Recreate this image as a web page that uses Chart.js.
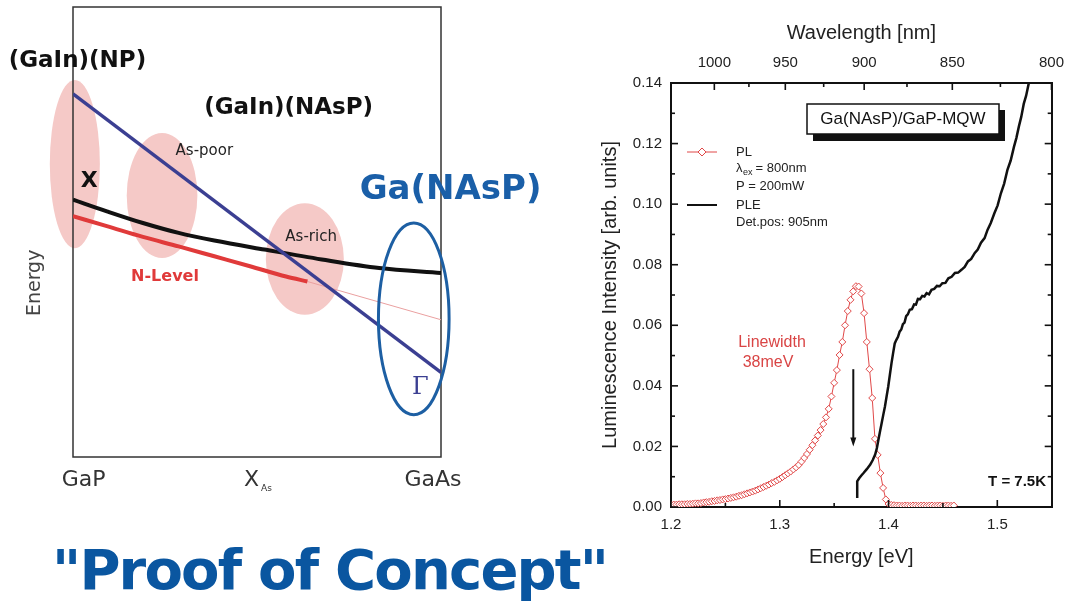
<!DOCTYPE html>
<html>
<head>
<meta charset="utf-8">
<script src="https://cdn.jsdelivr.net/npm/chart.js@4.4.0/dist/chart.umd.min.js"></script>
<style>
  html, body { margin: 0; padding: 0; background: #fff; width: 1075px; height: 605px; overflow: hidden; }
  #left { position: absolute; left: 0; top: 0; }
  #right { position: absolute; left: 590px; top: 0; }
  #title { position: absolute; left: 52px; top: 542px; font: bold 56px "DejaVu Sans"; line-height: 56px;
           color: #0a56a0; letter-spacing: -1.8px; white-space: nowrap; }
</style>
</head>
<body>
<canvas id="left" width="590" height="520"></canvas>
<canvas id="right" width="485" height="600"></canvas>
<div id="title">"Proof of Concept"</div>
<script>
// ---------- left: band scheme (x = As fraction, y = energy, both 0..1) ----------
const blackX = [0, 0.092, 0.19, 0.287, 0.384, 0.52, 0.676, 0.832, 1.0];
const blackY = [0.572, 0.546, 0.52, 0.498, 0.481, 0.461, 0.439, 0.42, 0.409];
const nLevelX = [0, 0.092, 0.19, 0.287, 0.384, 0.481, 0.579, 0.637];
const nLevelY = [0.535, 0.513, 0.489, 0.468, 0.446, 0.424, 0.401, 0.39];
const nThinX = [0.637, 1.0];
const nThinY = [0.39, 0.305];
const gammaX = [0, 1];
const gammaY = [0.807, 0.188];

// regions: centre x, centre y, radius x, radius y
const pinkRegions = [
  [0.005, 0.651, 0.068, 0.187],
  [0.242, 0.581, 0.096, 0.139],
  [0.63, 0.44, 0.106, 0.124]
];
const blueRegion = [0.926, 0.307, 0.096, 0.213];

const leftLabels = [
  { t: '(GaIn)(NP)', x: 0.012, y: 0.879, f: 'bold 23px "DejaVu Sans"', c: '#111' },
  { t: '(GaIn)(NAsP)', x: 0.586, y: 0.776, f: 'bold 23px "DejaVu Sans"', c: '#111' },
  { t: 'As-poor', x: 0.357, y: 0.679, f: '15px "DejaVu Sans"', c: '#222' },
  { t: 'X', x: 0.044, y: 0.613, f: 'bold 22px "DejaVu Sans"', c: '#111' },
  { t: 'Ga(NAsP)', x: 1.026, y: 0.594, f: 'bold 34px "DejaVu Sans"', c: '#1a5fa8' },
  { t: 'As-rich', x: 0.647, y: 0.489, f: '15px "DejaVu Sans"', c: '#222' },
  { t: 'N-Level', x: 0.25, y: 0.401, f: 'bold 16px "DejaVu Sans"', c: '#e03a3a' },
  { t: 'Γ', x: 0.944, y: 0.153, f: '24px "DejaVu Serif"', c: '#3b3f92' },
  { t: 'GaP', x: 0.029, y: -0.051, f: '22px "DejaVu Sans"', c: '#333' },
  { t: 'GaAs', x: 0.978, y: -0.051, f: '22px "DejaVu Sans"', c: '#333' }
];

function pts(xs, ys) { return xs.map((v, i) => ({ x: v, y: ys[i] })); }

const schemePlugin = {
  id: 'scheme',
  beforeDatasetsDraw(chart) {
    const { ctx, scales: { x, y } } = chart;
    ctx.save();
    ctx.fillStyle = '#f5c9c7';
    pinkRegions.forEach(r => {
      const cx = x.getPixelForValue(r[0]), cy = y.getPixelForValue(r[1]);
      const rx = Math.abs(x.getPixelForValue(r[0] + r[2]) - cx);
      const ry = Math.abs(y.getPixelForValue(r[1] + r[3]) - cy);
      ctx.beginPath(); ctx.ellipse(cx, cy, rx, ry, 0, 0, Math.PI * 2); ctx.fill();
    });
    // frame
    const a = chart.chartArea;
    ctx.strokeStyle = '#333'; ctx.lineWidth = 1.5;
    ctx.strokeRect(a.left, a.top, a.right - a.left, a.bottom - a.top);
    ctx.restore();
  },
  afterDraw(chart) {
    const { ctx, scales: { x, y } } = chart;
    ctx.save();
    const r = blueRegion;
    const cx = x.getPixelForValue(r[0]), cy = y.getPixelForValue(r[1]);
    const rx = Math.abs(x.getPixelForValue(r[0] + r[2]) - cx);
    const ry = Math.abs(y.getPixelForValue(r[1] + r[3]) - cy);
    ctx.strokeStyle = '#1d5fa3'; ctx.lineWidth = 3;
    ctx.beginPath(); ctx.ellipse(cx, cy, rx, ry, 0, 0, Math.PI * 2); ctx.stroke();

    ctx.textAlign = 'center'; ctx.textBaseline = 'middle';
    leftLabels.forEach(l => {
      ctx.font = l.f; ctx.fillStyle = l.c;
      ctx.fillText(l.t, x.getPixelForValue(l.x), y.getPixelForValue(l.y));
    });
    // X with subscript As
    const px = x.getPixelForValue(0.496), py = y.getPixelForValue(-0.051);
    ctx.font = '22px "DejaVu Sans"'; ctx.fillStyle = '#333';
    ctx.fillText('X', px - 4, py);
    ctx.font = '9px "DejaVu Sans"';
    ctx.fillText('As', px + 11, py + 9);
    // axis title
    ctx.save();
    ctx.translate(35, y.getPixelForValue(0.387));
    ctx.rotate(-Math.PI / 2);
    ctx.font = '19px "DejaVu Sans"'; ctx.fillStyle = '#444';
    ctx.fillText('Energy', 0, 0);
    ctx.restore();
    ctx.restore();
  }
};

new Chart(document.getElementById('left'), {
  type: 'line',
  data: {
    datasets: [
      { data: pts(gammaX, gammaY), borderColor: '#3b3f92', borderWidth: 3.5, pointRadius: 0 },
      { data: pts(blackX, blackY), borderColor: '#111', borderWidth: 4, pointRadius: 0, cubicInterpolationMode: 'monotone' },
      { data: pts(nLevelX, nLevelY), borderColor: '#e03a3a', borderWidth: 4, pointRadius: 0, cubicInterpolationMode: 'monotone' },
      { data: pts(nThinX, nThinY), borderColor: '#eaa0a0', borderWidth: 1, pointRadius: 0 }
    ]
  },
  options: {
    responsive: false,
    animation: false,
    layout: { padding: { left: 73, top: 7, right: 149, bottom: 63 } },
    plugins: { legend: { display: false }, tooltip: { enabled: false } },
    scales: {
      x: { type: 'linear', min: 0, max: 1, display: false },
      y: { type: 'linear', min: 0, max: 1, display: false }
    }
  },
  plugins: [schemePlugin]
});

// ---------- right: PL / PLE spectra ----------
const energyTicks = [1.2, 1.3, 1.4, 1.5];
const energyMinor = [1.25, 1.35, 1.45];
const wavelengthTicks = [1000, 950, 900, 850, 800];
const wavelengthMinor = [975, 925, 875, 825];
const intensityTicks = [0, 0.02, 0.04, 0.06, 0.08, 0.10, 0.12, 0.14];
const intensityMinor = [0.01, 0.03, 0.05, 0.07, 0.09, 0.11, 0.13];

const plEnergy = [
  1.2000, 1.2025, 1.2050, 1.2075, 1.2100, 1.2125, 1.2150, 1.2175, 1.2200, 1.2225,
  1.2250, 1.2275, 1.2300, 1.2325, 1.2350, 1.2375, 1.2400, 1.2425, 1.2450, 1.2475,
  1.2500, 1.2525, 1.2550, 1.2575, 1.2600, 1.2625, 1.2650, 1.2675, 1.2700, 1.2725,
  1.2750, 1.2775, 1.2800, 1.2825, 1.2850, 1.2875, 1.2900, 1.2925, 1.2950, 1.2975,
  1.3000, 1.3025, 1.3050, 1.3075, 1.3100, 1.3125, 1.3150, 1.3175, 1.3200, 1.3225,
  1.3250, 1.3275, 1.3300, 1.3325, 1.3350, 1.3375, 1.3400, 1.3425, 1.3450, 1.3475,
  1.3500, 1.3525, 1.3550, 1.3575, 1.3600, 1.3625, 1.3650, 1.3675, 1.3700, 1.3725,
  1.3750, 1.3775, 1.3800, 1.3825, 1.3850, 1.3875, 1.3900, 1.3925, 1.3950, 1.3975,
  1.4000, 1.4025, 1.4050, 1.4075, 1.4100, 1.4125, 1.4150, 1.4175, 1.4200, 1.4225,
  1.4250, 1.4275, 1.4300, 1.4325, 1.4350, 1.4375, 1.4400, 1.4425, 1.4450, 1.4475,
  1.4500, 1.4525, 1.4550, 1.4575, 1.4600
];
const plIntensity = [
  0.0008, 0.0008, 0.0008, 0.0009, 0.0009, 0.0009, 0.0010, 0.0010, 0.0011, 0.0012,
  0.0012, 0.0013, 0.0015, 0.0016, 0.0017, 0.0019, 0.0020, 0.0022, 0.0023, 0.0025,
  0.0026, 0.0028, 0.0030, 0.0032, 0.0034, 0.0037, 0.0039, 0.0042, 0.0045, 0.0048,
  0.0051, 0.0054, 0.0058, 0.0062, 0.0066, 0.0070, 0.0074, 0.0079, 0.0083, 0.0088,
  0.0093, 0.0099, 0.0105, 0.0111, 0.0117, 0.0124, 0.0131, 0.0139, 0.0150, 0.0162,
  0.0175, 0.0189, 0.0204, 0.0220, 0.0236, 0.0254, 0.0274, 0.0296, 0.0324, 0.0365,
  0.0410, 0.0452, 0.0502, 0.0545, 0.0600, 0.0647, 0.0684, 0.0712, 0.0729, 0.0728,
  0.0705, 0.0640, 0.0545, 0.0455, 0.0360, 0.0225, 0.0172, 0.0112, 0.0063, 0.0025,
  0.0010, 0.0007, 0.0006, 0.0005, 0.0005, 0.0004, 0.0005, 0.0005, 0.0004, 0.0005,
  0.0005, 0.0004, 0.0005, 0.0005, 0.0004, 0.0005, 0.0005, 0.0004, 0.0005, 0.0005,
  0.0004, 0.0005, 0.0005, 0.0004, 0.0005
];

const pleEnergy = [
  1.3712, 1.3712, 1.3730, 1.3750, 1.3772, 1.3800, 1.3832, 1.3855, 1.3877, 1.3893,
  1.3907, 1.3922, 1.3937, 1.3952, 1.3967, 1.3982, 1.3997, 1.4012, 1.4027, 1.4042,
  1.4057, 1.4072, 1.4087, 1.4102, 1.4117, 1.4132, 1.4147, 1.4162, 1.4177, 1.4195,
  1.4215, 1.4235, 1.4252, 1.4270, 1.4290, 1.4310, 1.4330, 1.4350, 1.4372, 1.4395,
  1.4420, 1.4445, 1.4470, 1.4495, 1.4523, 1.4550, 1.4580, 1.4610, 1.4640, 1.4673,
  1.4700, 1.4730, 1.4760, 1.4793, 1.4820, 1.4850, 1.4883, 1.4910, 1.4940, 1.4973,
  1.5003, 1.5033, 1.5063, 1.5093, 1.5123, 1.5153, 1.5175, 1.5198, 1.5220, 1.5243,
  1.5265, 1.5288, 1.5300
];
const pleIntensity = [
  0.0030, 0.0085, 0.0095, 0.0104, 0.0113, 0.0125, 0.0140, 0.0155, 0.0173, 0.0195,
  0.0222, 0.0250, 0.0277, 0.0305, 0.0332, 0.0365, 0.0397, 0.0436, 0.0474, 0.0508,
  0.0540, 0.0552, 0.0562, 0.0579, 0.0586, 0.0604, 0.0609, 0.0630, 0.0636, 0.0651,
  0.0653, 0.0669, 0.0668, 0.0687, 0.0686, 0.0697, 0.0695, 0.0706, 0.0702, 0.0717,
  0.0720, 0.0730, 0.0729, 0.0739, 0.0740, 0.0755, 0.0760, 0.0773, 0.0774, 0.0784,
  0.0793, 0.0811, 0.0819, 0.0839, 0.0850, 0.0873, 0.0888, 0.0915, 0.0938, 0.0970,
  0.0996, 0.1036, 0.1068, 0.1113, 0.1144, 0.1189, 0.1218, 0.1256, 0.1288, 0.1331,
  0.1358, 0.1397, 0.1412
];

const HC = 1239.84; // eV*nm

const spectraPlugin = {
  id: 'spectra',
  afterDraw(chart) {
    const { ctx, chartArea: a, scales: { x, y } } = chart;
    ctx.save();
    ctx.strokeStyle = '#111'; ctx.lineWidth = 1.6;
    const tick = (px, py, dx, dy) => { ctx.beginPath(); ctx.moveTo(px, py); ctx.lineTo(px + dx, py + dy); ctx.stroke(); };
    energyTicks.forEach(v => tick(x.getPixelForValue(v), a.bottom, 0, -7));
    energyMinor.forEach(v => tick(x.getPixelForValue(v), a.bottom, 0, -4));
    wavelengthTicks.forEach(l => tick(x.getPixelForValue(HC / l), a.top, 0, 7));
    wavelengthMinor.forEach(l => tick(x.getPixelForValue(HC / l), a.top, 0, 4));
    intensityTicks.forEach(v => { const p = y.getPixelForValue(v); tick(a.left, p, 7, 0); tick(a.right, p, -7, 0); });
    intensityMinor.forEach(v => { const p = y.getPixelForValue(v); tick(a.left, p, 4, 0); tick(a.right, p, -4, 0); });

    // detection arrow
    const ax = x.getPixelForValue(1.3676);
    const ay0 = y.getPixelForValue(0.0455), ay1 = y.getPixelForValue(0.020);
    ctx.lineWidth = 2;
    ctx.beginPath(); ctx.moveTo(ax, ay0); ctx.lineTo(ax, ay1 - 6); ctx.stroke();
    ctx.fillStyle = '#111';
    ctx.beginPath(); ctx.moveTo(ax - 3, ay1 - 9); ctx.lineTo(ax + 3, ay1 - 9); ctx.lineTo(ax, ay1); ctx.closePath(); ctx.fill();

    // legend
    const lx = a.left;
    ctx.font = '13px "Liberation Sans"'; ctx.fillStyle = '#222';
    ctx.textAlign = 'left'; ctx.textBaseline = 'middle';
    ctx.strokeStyle = '#e04848'; ctx.lineWidth = 1;
    tick(lx + 16, 152, 30, 0);
    ctx.fillStyle = '#fff';
    ctx.beginPath(); ctx.moveTo(lx + 31, 148); ctx.lineTo(lx + 35, 152); ctx.lineTo(lx + 31, 156); ctx.lineTo(lx + 27, 152); ctx.closePath();
    ctx.fill(); ctx.stroke();
    ctx.fillStyle = '#222';
    ctx.fillText('PL', lx + 65, 152);
    ctx.fillText('λ', lx + 65, 168);
    ctx.font = '9px "Liberation Sans"';
    ctx.fillText('ex', lx + 72, 173);
    ctx.font = '13px "Liberation Sans"';
    ctx.fillText(' = 800nm', lx + 81, 168);
    ctx.fillText('P = 200mW', lx + 65, 186);
    ctx.strokeStyle = '#111'; ctx.lineWidth = 2;
    tick(lx + 16, 205, 30, 0);
    ctx.fillText('PLE', lx + 65, 205);
    ctx.fillText('Det.pos: 905nm', lx + 65, 222);

    // sample box with shadow
    ctx.fillStyle = '#111';
    ctx.fillRect(223, 110, 192, 31);
    ctx.fillStyle = '#fff'; ctx.strokeStyle = '#111'; ctx.lineWidth = 1.5;
    ctx.fillRect(217, 104, 192, 30); ctx.strokeRect(217, 104, 192, 30);
    ctx.fillStyle = '#111'; ctx.textAlign = 'center';
    ctx.font = '17px "Liberation Sans"';
    ctx.fillText('Ga(NAsP)/GaP-MQW', 313, 119);

    // annotations
    ctx.fillStyle = '#d94545'; ctx.font = '16px "Liberation Sans"';
    ctx.fillText('Linewidth', 182, 343);
    ctx.fillText('38meV', 178, 363);
    ctx.fillStyle = '#111'; ctx.font = 'bold 15px "Liberation Sans"';
    ctx.textAlign = 'right';
    ctx.fillText('T = 7.5K', 456, 482);
    ctx.restore();
  }
};

const tickFont = { family: 'Liberation Sans', size: 15 };
const titleFont = { family: 'Liberation Sans', size: 20 };
const frame = { display: true, color: '#111', width: 2 };

new Chart(document.getElementById('right'), {
  type: 'line',
  data: {
    datasets: [
      { label: 'PLE', data: pts(pleEnergy, pleIntensity), borderColor: '#111', borderWidth: 2.5, pointRadius: 0 },
      { label: 'PL', data: pts(plEnergy, plIntensity), borderColor: '#e04848', borderWidth: 1,
        pointStyle: 'rectRot', pointRadius: 3.5, pointBorderColor: '#e04848', pointBackgroundColor: '#fff', pointBorderWidth: 1 }
    ]
  },
  options: {
    responsive: false,
    animation: false,
    layout: { padding: { left: 0, top: 0, right: 17, bottom: 0 } },
    plugins: { legend: { display: false }, tooltip: { enabled: false } },
    scales: {
      x: {
        type: 'linear', position: 'bottom', min: 1.2, max: 1.55,
        afterBuildTicks: s => { s.ticks = energyTicks.map(v => ({ value: v })); },
        afterFit: s => { s.height = 93; },
        ticks: { font: tickFont, color: '#222', padding: 9, maxRotation: 0, autoSkip: false, callback: v => v.toFixed(1) },
        grid: { display: false, drawTicks: false },
        border: frame,
        title: { display: true, text: 'Energy [eV]', font: titleFont, color: '#222', padding: { top: 0, bottom: 31 } }
      },
      x2: {
        type: 'linear', position: 'top', min: 1.2, max: 1.55,
        afterBuildTicks: s => { s.ticks = wavelengthTicks.map(l => ({ value: HC / l })); },
        afterFit: s => { s.height = 83; },
        ticks: { font: tickFont, color: '#222', padding: 11, maxRotation: 0, autoSkip: false, callback: v => String(Math.round(HC / v)) },
        grid: { display: false, drawTicks: false },
        border: frame,
        title: { display: true, text: 'Wavelength [nm]', font: titleFont, color: '#222', padding: { top: 21, bottom: 0 } }
      },
      y: {
        type: 'linear', position: 'left', min: 0, max: 0.14,
        afterBuildTicks: s => { s.ticks = intensityTicks.map(v => ({ value: v })); },
        afterFit: s => { s.width = 81; },
        ticks: { font: tickFont, color: '#222', padding: 9, autoSkip: false, callback: v => v.toFixed(2) },
        grid: { display: false, drawTicks: false },
        border: frame,
        title: { display: true, text: 'Luminescence Intensity [arb. units]', font: titleFont, color: '#222', padding: { top: 8, bottom: 0 } }
      },
      y2: {
        type: 'linear', position: 'right', min: 0, max: 0.14,
        afterFit: s => { s.width = 0; },
        ticks: { display: false },
        grid: { display: false, drawTicks: false },
        border: frame
      }
    }
  },
  plugins: [spectraPlugin]
});
</script>
</body>
</html>
